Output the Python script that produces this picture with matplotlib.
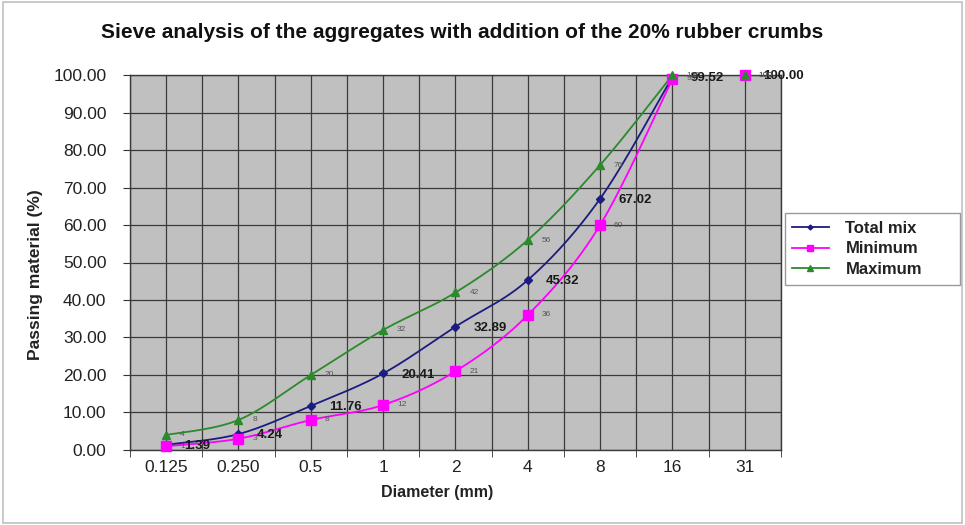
import numpy as np
import matplotlib
matplotlib.use("Agg")
import matplotlib.pyplot as plt
from matplotlib.lines import Line2D

plt.rcParams["font.family"] = ["Liberation Sans", "DejaVu Sans"]

sieves = ["0.125", "0.250", "0.5", "1", "2", "4", "8", "16", "31"]
total_mix = [1.39, 4.24, 11.76, 20.41, 32.89, 45.32, 67.02, 99.52, 100.00]
minimum = [1, 3, 8, 12, 21, 36, 60, 99, 100]
maximum = [4, 8, 20, 32, 42, 56, 76, 100, 100]


def smooth(x, y, n=30):
    # Excel-style smoothed line (Catmull-Rom as cubic Bezier)
    x = np.asarray(x, float)
    y = np.asarray(y, float)
    px = np.concatenate([[x[0]], x, [x[-1]]])
    py = np.concatenate([[y[0]], y, [y[-1]]])
    xs, ys = [], []
    t = np.linspace(0, 1, n)
    for i in range(1, len(px) - 2):
        p0 = np.array([px[i], py[i]])
        p3 = np.array([px[i + 1], py[i + 1]])
        c1 = p0 + (np.array([px[i + 1], py[i + 1]]) - np.array([px[i - 1], py[i - 1]])) / 6
        c2 = p3 - (np.array([px[i + 2], py[i + 2]]) - np.array([px[i], py[i]])) / 6
        b = ((1 - t) ** 3)[:, None] * p0 + (3 * (1 - t) ** 2 * t)[:, None] * c1 \
            + (3 * (1 - t) * t ** 2)[:, None] * c2 + (t ** 3)[:, None] * p3
        xs.extend(b[:, 0])
        ys.extend(b[:, 1])
    return np.array(xs), np.array(ys)


fig = plt.figure(figsize=(9.65, 5.25), dpi=100)
fig.patch.set_facecolor("white")
fig.patches.append(plt.Rectangle((0.003, 0.003), 0.994, 0.993, transform=fig.transFigure,
                                 fill=False, edgecolor="#c0c0c0", linewidth=1.2))
ax = fig.add_axes([0.1347, 0.1429, 0.6746, 0.7142])
ax.set_facecolor("#c0c0c0")

xi = np.arange(len(sieves))
series = [
    (total_mix, "#1c1c80", "D", 4, "Total mix"),
    (minimum, "#ff00ff", "s", 6.5, "Minimum"),
    (maximum, "#2b8a2b", "^", 6, "Maximum"),
]
# curves run up to the 16 mm sieve; the 31 mm point stands alone
for vals, col, mk, ms, name in series[::-1]:
    sx, sy = smooth(xi[:-1], vals[:-1])
    ax.plot(sx, sy, color=col, linewidth=1.3, zorder=3, clip_on=False)
for vals, col, mk, ms, name in series:
    ax.plot(xi, vals, linestyle="none", marker=mk, markersize=ms, color=col,
            zorder=4, clip_on=False)

for i, v in enumerate(total_mix):
    ax.annotate(f"{v:.2f}", (xi[i], v), xytext=(13, -1), textcoords="offset points",
                fontsize=9.5, fontweight="bold", color="#1a1a1a", va="center", zorder=5)
for i, v in enumerate(minimum):
    ax.annotate(f"{v}", (xi[i], v), xytext=(10, 0), textcoords="offset points",
                fontsize=6, color="#555555", va="center", zorder=5)
for i, v in enumerate(maximum):
    ax.annotate(f"{v}", (xi[i], v), xytext=(10, 0), textcoords="offset points",
                fontsize=6, color="#555555", va="center", zorder=5)

ax.set_xlim(-0.5, len(sieves) - 0.5)
ax.set_ylim(0, 100)
ax.set_yticks(np.arange(0, 101, 10))
ax.set_yticklabels([f"{v:.2f}" for v in range(0, 101, 10)], fontsize=12.5, color="#222222")
ax.set_xticks(xi)
ax.set_xticklabels(sieves, fontsize=12.5, color="#222222")
ax.set_xticks(np.arange(-0.5, len(sieves), 1), minor=True)
ax.tick_params(axis="x", which="major", length=0, pad=7)
ax.tick_params(axis="x", which="minor", length=5, color="#333333")
ax.tick_params(axis="y", length=5, color="#333333", pad=12)

ax.grid(True, which="both", axis="x", color="#3a3a3a", linewidth=0.9)
ax.grid(True, which="major", axis="y", color="#3a3a3a", linewidth=0.9)
ax.set_axisbelow(True)
for s in ax.spines.values():
    s.set_color("#3a3a3a")
    s.set_linewidth(1)

fig.text(0.453, 0.061, "Diameter (mm)", ha="center", va="center", fontsize=11.5,
         fontweight="bold", color="#222222")
fig.text(0.037, 0.476, "Passing material (%)", ha="center", va="center", rotation=90,
         fontsize=12.5, fontweight="bold", color="#222222")
fig.text(0.479, 0.939, "Sieve analysis of the aggregates with addition of the 20% rubber crumbs",
         ha="center", va="center", fontsize=15, fontweight="bold", color="#111111")

handles = [Line2D([0], [0], color=c, marker=m, markersize=ms - 1.5, linewidth=1.3)
           for _, c, m, ms, _ in series]
leg = fig.legend(handles, [s[4] for s in series], loc="upper left",
                 bbox_to_anchor=(0.813, 0.453, 0.182, 0.141), mode="expand",
                 frameon=True, fancybox=False, edgecolor="#808080", handlelength=2.2,
                 borderpad=0.45, labelspacing=0.35, handletextpad=1.0,
                 borderaxespad=0, prop={"weight": "bold", "size": 12})
leg.get_frame().set_linewidth(1)
for t in leg.get_texts():
    t.set_color("#222222")

fig.savefig("out.png", dpi=100)
